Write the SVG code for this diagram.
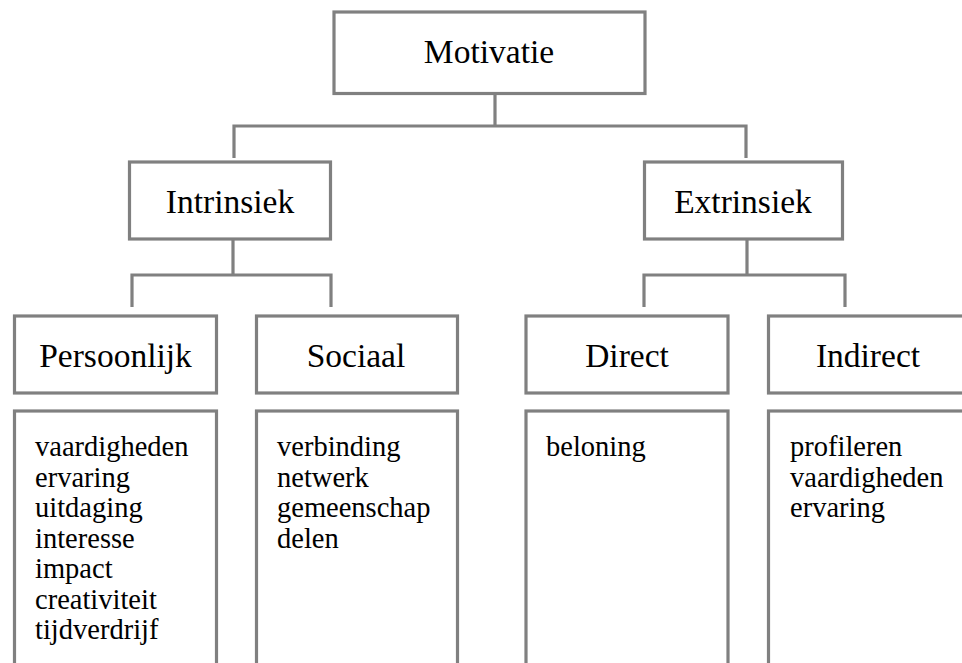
<svg xmlns="http://www.w3.org/2000/svg" width="962" height="663" viewBox="0 0 962 663">
<style>
.box{fill:#fff;stroke:#808080;stroke-width:3.2}
.ln{fill:none;stroke:#808080;stroke-width:3.2;stroke-linejoin:miter}
.h{font-family:"Liberation Serif","DejaVu Serif",serif;font-size:33.5px;fill:#000;text-anchor:middle}
.c{font-family:"Liberation Serif","DejaVu Serif",serif;font-size:28.5px;fill:#000}
</style>
<rect width="962" height="663" fill="#fff"/>
<g id="connectors">
<path class="ln" d="M495,94 V126 M234,158 V126 H746 V158"/>
<path class="ln" d="M233,240 V275 M132,307 V275 H331 V307"/>
<path class="ln" d="M747,240 V275 M644,307 V275 H845 V307"/>
</g>
<g id="motivatie"><rect class="box" x="334" y="12" width="311" height="81.5"/><text class="h" x="489" y="63">Motivatie</text></g>
<g id="intrinsiek"><rect class="box" x="129.5" y="162" width="201" height="77"/><text class="h" x="230" y="213">Intrinsiek</text></g>
<g id="extrinsiek"><rect class="box" x="644.5" y="162" width="198" height="77"/><text class="h" x="743" y="213">Extrinsiek</text></g>
<g id="persoonlijk"><rect class="box" x="14.5" y="316" width="202" height="77"/><text class="h" x="115.5" y="367">Persoonlijk</text></g>
<g id="sociaal"><rect class="box" x="256.5" y="316" width="201" height="77"/><text class="h" x="356" y="367">Sociaal</text></g>
<g id="direct"><rect class="box" x="526" y="316" width="202" height="77"/><text class="h" x="627" y="367">Direct</text></g>
<g id="indirect"><rect class="box" x="768.5" y="316" width="204" height="77"/><text class="h" x="868" y="367">Indirect</text></g>
<g id="persoonlijk-items"><rect class="box" x="14.5" y="411" width="202" height="270"/>
<text class="c" x="35" y="456">vaardigheden</text>
<text class="c" x="35" y="486.5">ervaring</text>
<text class="c" x="35" y="517">uitdaging</text>
<text class="c" x="35" y="547.5">interesse</text>
<text class="c" x="35" y="578">impact</text>
<text class="c" x="35" y="608.5">creativiteit</text>
<text class="c" x="35" y="639">tijdverdrijf</text></g>
<g id="sociaal-items"><rect class="box" x="256.5" y="411" width="201" height="270"/>
<text class="c" x="277" y="456">verbinding</text>
<text class="c" x="277" y="486.5">netwerk</text>
<text class="c" x="277" y="517">gemeenschap</text>
<text class="c" x="277" y="547.5">delen</text></g>
<g id="direct-items"><rect class="box" x="526" y="411" width="202" height="270"/>
<text class="c" x="546" y="456">beloning</text></g>
<g id="indirect-items"><rect class="box" x="768.5" y="411" width="204" height="270"/>
<text class="c" x="790" y="456">profileren</text>
<text class="c" x="790" y="486.5">vaardigheden</text>
<text class="c" x="790" y="517">ervaring</text></g>
</svg>
